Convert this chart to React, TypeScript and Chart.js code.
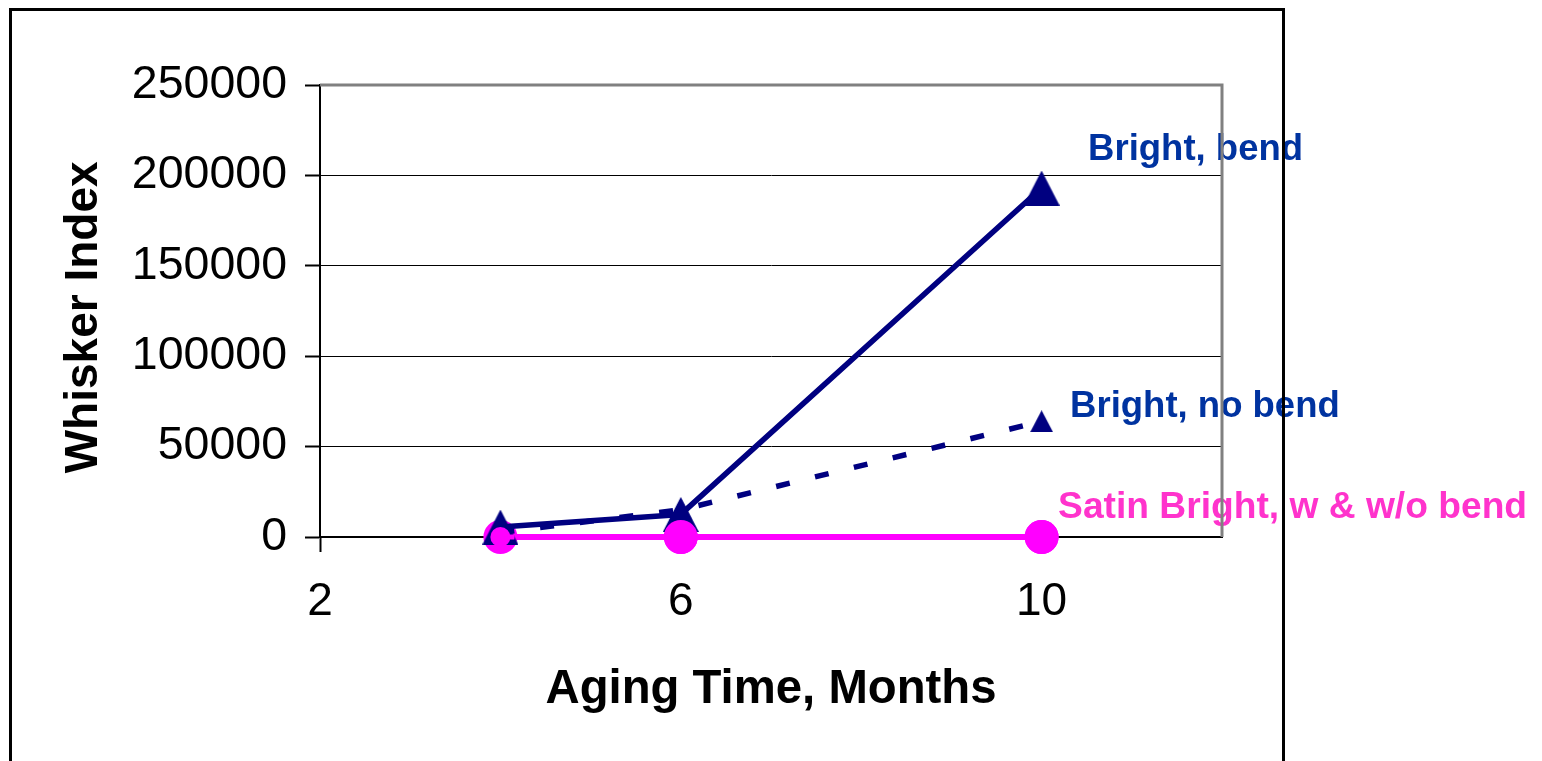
import React, { useEffect, useRef } from "react";
import { Chart, registerables } from "chart.js";

Chart.register(...registerables);

// Aging time (months) at which whiskers were counted
const months = [4, 6, 10];
// Whisker index per finish / bend condition
const brightBend = [5500, 12500, 193000];
const brightNoBend = [2500, 15000, 64000];
const satinBend = [0, 0, 0];
const satinNoBend = [0, 0, 0];

// Axis ticks
const xTickValues = [2, 6, 10];
const yTickValues = [0, 50000, 100000, 150000, 200000, 250000];

// Series names printed next to the last point of each curve
const seriesNames = ["Bright, bend", "Bright, no bend", "Satin Bright, w & w/o bend"];

const FONT = '"Liberation Sans", Arial, Helvetica, sans-serif';
const NAVY = "#000080";
const MAGENTA = "#FF00FF";
const LABEL_BLUE = "#0033A0";
const LABEL_PINK = "#FF33CC";

const W = 1542;
const H = 761;

function triangleMarker(w: number, h: number, color: string): HTMLCanvasElement {
  const c = document.createElement("canvas");
  c.width = w;
  c.height = h;
  const g = c.getContext("2d")!;
  g.fillStyle = color;
  g.beginPath();
  g.moveTo(w / 2, 0);
  g.lineTo(w, h);
  g.lineTo(0, h);
  g.closePath();
  g.fill();
  return c;
}

const toPoints = (ys: number[]) => months.map((m, i) => ({ x: m, y: ys[i] }));

// Text labels sitting beside the end of each curve, drawn beneath the frame lines
const curveLabels = {
  id: "curveLabels",
  afterDatasetsDraw(chart: any) {
    const { ctx, scales } = chart;
    const xs = scales.x;
    const ys = scales.y;
    const last = months.length - 1;
    const items = [
      { text: seriesNames[0], v: brightBend[last], color: LABEL_BLUE, size: 36.5, dx: 46.5, dy: -28 },
      { text: seriesNames[1], v: brightNoBend[last], color: LABEL_BLUE, size: 36.5, dx: 28.5, dy: -4 },
      { text: seriesNames[2], v: satinBend[last], color: LABEL_PINK, size: 37.2, dx: 16.5, dy: -19 },
    ];
    ctx.save();
    ctx.textAlign = "left";
    ctx.textBaseline = "alphabetic";
    for (const it of items) {
      ctx.font = `bold ${it.size}px ${FONT}`;
      ctx.fillStyle = it.color;
      ctx.fillText(it.text, xs.getPixelForValue(months[last]) + it.dx, ys.getPixelForValue(it.v) + it.dy);
    }
    ctx.restore();
  },
};

// Grey plot-area border (top and right) and the black outer frame
const frames = {
  id: "frames",
  afterDraw(chart: any) {
    const { ctx, chartArea } = chart;
    ctx.save();
    ctx.strokeStyle = "#808080";
    ctx.lineWidth = 3;
    ctx.beginPath();
    ctx.moveTo(chartArea.left, chartArea.top);
    ctx.lineTo(chartArea.right, chartArea.top);
    ctx.lineTo(chartArea.right, chartArea.bottom);
    ctx.stroke();

    ctx.strokeStyle = "#000000";
    ctx.lineWidth = 3;
    ctx.beginPath();
    ctx.moveTo(10.5, H + 10);
    ctx.lineTo(10.5, 9.5);
    ctx.lineTo(1283.5, 9.5);
    ctx.lineTo(1283.5, H + 10);
    ctx.stroke();
    ctx.restore();
  },
};

export default function App() {
  const ref = useRef<HTMLCanvasElement | null>(null);

  useEffect(() => {
    if (!ref.current) return;
    const bigTri = triangleMarker(36, 35, NAVY);
    const smallTri = triangleMarker(23, 22, NAVY);

    const chart = new Chart(ref.current, {
      type: "line",
      data: {
        datasets: [
          {
            label: "Satin Bright, bend",
            data: toPoints(satinBend),
            borderColor: MAGENTA,
            backgroundColor: MAGENTA,
            borderWidth: 6,
            pointStyle: "circle",
            pointRadius: 17,
            pointBorderWidth: 0,
            pointBackgroundColor: MAGENTA,
            order: 4,
          },
          {
            label: "Bright, bend",
            data: toPoints(brightBend),
            borderColor: NAVY,
            backgroundColor: NAVY,
            borderWidth: 5.5,
            pointStyle: bigTri,
            pointRadius: 18,
            order: 3,
          },
          {
            label: "Bright, no bend",
            data: toPoints(brightNoBend),
            borderColor: NAVY,
            backgroundColor: NAVY,
            borderWidth: 5.5,
            borderDash: [14, 26],
            borderCapStyle: "butt",
            pointStyle: smallTri,
            pointRadius: 12,
            order: 2,
          },
          {
            label: "Satin Bright, no bend",
            data: toPoints(satinNoBend),
            borderColor: MAGENTA,
            backgroundColor: MAGENTA,
            borderWidth: 5,
            borderDash: [14, 26],
            borderCapStyle: "butt",
            pointStyle: "circle",
            pointRadius: [10, 17, 17],
            pointBorderWidth: 0,
            pointBackgroundColor: MAGENTA,
            order: 1,
          },
        ],
      },
      options: {
        responsive: false,
        animation: false,
        events: [],
        clip: false as any,
        layout: { padding: { top: 85, right: 320, bottom: 0, left: 0 } },
        elements: { line: { tension: 0, borderJoinStyle: "round" } },
        plugins: {
          legend: { display: false },
          tooltip: { enabled: false },
          title: { display: false },
        },
        scales: {
          x: {
            type: "linear",
            min: 2,
            max: 12,
            afterBuildTicks: (scale: any) => {
              scale.ticks = xTickValues.map((v) => ({ value: v }));
            },
            afterFit: (scale: any) => {
              scale.height = 224;
            },
            ticks: {
              color: "#000",
              font: { family: FONT, size: 46 },
              padding: 23,
              maxRotation: 0,
              autoSkip: false,
              callback: (v: any) => String(v),
            },
            grid: {
              drawOnChartArea: false,
              drawTicks: true,
              tickLength: 15,
              tickColor: "#000",
              tickWidth: 2,
            },
            border: { display: true, color: "#000", width: 2 },
            title: {
              display: true,
              text: "Aging Time, Months",
              color: "#000",
              font: { family: FONT, size: 47.3, weight: "bold" },
              padding: { top: 0, bottom: 43 },
            },
          },
          y: {
            type: "linear",
            min: 0,
            max: 250000,
            afterBuildTicks: (scale: any) => {
              scale.ticks = yTickValues.map((v) => ({ value: v }));
            },
            afterFit: (scale: any) => {
              scale.width = 320;
            },
            ticks: {
              color: "#000",
              font: { family: FONT, size: 46.5 },
              padding: 18,
              autoSkip: false,
              callback: (v: any) => String(v),
            },
            grid: {
              color: "#000",
              lineWidth: 1,
              drawTicks: true,
              tickLength: 15,
              tickColor: "#000",
              tickWidth: 2,
            },
            border: { display: true, color: "#000", width: 2 },
            title: {
              display: true,
              text: "Whisker Index\u00a0",
              color: "#000",
              font: { family: FONT, size: 46, weight: "bold" },
              padding: { top: 57, bottom: 0 },
            },
          },
        },
      },
      plugins: [curveLabels, frames],
    } as any);

    return () => chart.destroy();
  }, []);

  return (
    <div style={{ position: "fixed", left: 0, top: 0, width: W, height: H, background: "#fff" }}>
      <canvas ref={ref} width={W} height={H} style={{ display: "block", width: W, height: H }} />
    </div>
  );
}
